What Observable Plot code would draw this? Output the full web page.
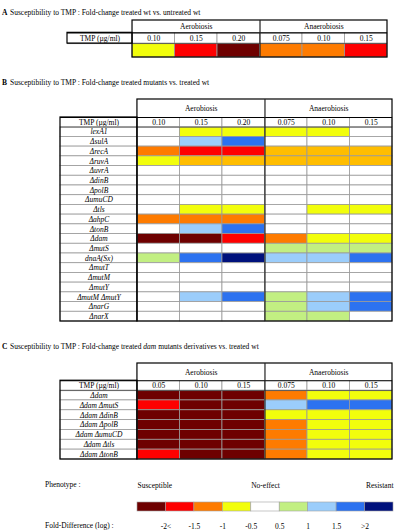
<!DOCTYPE html>
<html><head><meta charset="utf-8">
<script src="https://cdn.jsdelivr.net/npm/d3@7"></script>
<script src="https://cdn.jsdelivr.net/npm/@observablehq/plot@0.6"></script>
<style>
body{margin:0;background:#fff;}
#wrap{position:relative;width:401px;height:530px;overflow:hidden;font-family:"Liberation Serif","Times New Roman",serif;font-size:7.5px;color:#000;}
.t{position:absolute;white-space:nowrap;line-height:10px;}
.t b{display:inline-block;width:8px;}
.p{position:absolute;left:0;}
.p text{font-family:"Liberation Serif","Times New Roman",serif;}
</style></head><body><div id="wrap">
<div class="t" style="left:2px;top:8px"><b>A</b>Susceptibility to TMP : Fold-change treated wt vs. untreated wt</div>
<div class="t" style="left:2px;top:78px"><b>B</b>Susceptibility to TMP : Fold-change treated mutants vs. treated wt</div>
<div class="t" style="left:2px;top:342px"><b>C</b>Susceptibility to TMP : Fold-change treated <i>dam</i> mutants derivatives vs. treated wt</div>
<div class="t" style="left:45px;top:480px">Phenotype :</div>
<div class="t" style="left:45px;top:521px">Fold-Difference (log) :</div>
</div>
<script>
// ---- data ----
const classes = ["S4","S3","S2","S1","N","R1","R2","R3","R4","A"];
const classColors = ["#6e0000","#fe0000","#fe7b00","#f2fe0c","#ffffff","#c2ef82","#9bcdfb","#2c72f0","#00117c","#ffbd00"];
const legendClasses = ["S4","S3","S2","S1","N","R1","R2","R3","R4"];
const legendLabels = ["-2<","-1.5","-1","-0.5","0.5","1","1.5",">2"];
const phenotypes = ["Susceptible","No-effect","Resistant"];
const conditions = ["Aerobiosis","Anaerobiosis"];
const tmpLabel = "TMP (µg/ml)";

const concA = ["0.10","0.15","0.20","0.075","0.10","0.15"];
const valuesA = [["S1","S3","S4","S2","S2","S3"]];

const concB = ["0.10","0.15","0.20","0.075","0.10","0.15"];
const genotypesB = ["lexA1","ΔsulA","ΔrecA","ΔruvA","ΔuvrA","ΔdinB","ΔpolB","ΔumuCD","Δtls","ΔahpC","ΔtonB","Δdam","ΔmutS","dnaA(Sx)","ΔmutT","ΔmutM","ΔmutY","ΔmutM ΔmutY","ΔnarG","ΔnarX"];
const valuesB = [
  ["N","S1","S1","S1","S1","N"],
  ["N","R2","R3","N","N","N"],
  ["S2","S3","S3","A","A","A"],
  ["S1","A","A","A","A","A"],
  ["N","N","N","N","N","N"],
  ["N","N","N","N","N","N"],
  ["N","N","N","N","N","N"],
  ["N","N","N","N","N","N"],
  ["N","S1","S1","N","S1","S1"],
  ["S2","S2","S2","N","N","N"],
  ["N","R2","R3","N","N","N"],
  ["S4","S4","S3","S2","S1","S1"],
  ["N","N","N","R1","R1","R1"],
  ["R1","R3","R4","R2","R2","R3"],
  ["N","N","N","N","N","N"],
  ["N","N","N","N","N","N"],
  ["N","N","N","N","N","N"],
  ["N","R2","R3","R1","R2","R3"],
  ["N","N","N","R1","R2","R3"],
  ["N","N","N","R1","R1","N"]
];

const concC = ["0.05","0.10","0.15","0.075","0.10","0.15"];
const genotypesC = ["Δdam","Δdam ΔmutS","Δdam ΔdinB","Δdam ΔpolB","Δdam ΔumuCD","Δdam Δtls","Δdam ΔtonB"];
const valuesC = [
  ["S4","S4","S4","S2","S1","S1"],
  ["S3","S4","S4","R2","R3","R3"],
  ["S4","S4","S4","S1","S1","S1"],
  ["S4","S4","S4","S2","S1","S1"],
  ["S4","S4","S4","S2","S1","S1"],
  ["S4","S4","S4","S2","S1","S1"],
  ["S3","S4","S4","S2","S1","S1"]
];

// ---- drawing ----
const FF = "'Liberation Serif', 'Times New Roman', serif";
const FONT = {fontFamily: FF, fontSize: "7.5px", background: "transparent", overflow: "visible"};
const GRID = "#9a9a9a";
const colorScale = {type: "ordinal", domain: classes, range: classColors};
const wrap = document.getElementById("wrap");

function tablePlot({conc, genotypes, values, svgTop, svgHeight, xRange, labelUnits, yRange, hdr, rowH}) {
  const nCol = conc.length;
  const half = nCol / 2;
  const tmpTop = hdr, tmpBot = hdr + 1;
  const rowTop = i => tmpBot + i * rowH;
  const total = tmpBot + values.length * rowH;
  const labelBottom = genotypes ? total : tmpBot;
  const cells = values.flatMap((r, i) => r.map((c, j) => ({i, j, c})));
  const marks = [
    Plot.rect(cells, {x1: d => d.j, x2: d => d.j + 1, y1: d => rowTop(d.i), y2: d => rowTop(d.i) + rowH, fill: "c", stroke: GRID, strokeWidth: 0.8}),
    Plot.rect(conc, {x1: (d, j) => j, x2: (d, j) => j + 1, y1: () => tmpTop, y2: () => tmpBot, fill: "white", stroke: GRID, strokeWidth: 0.8}),
    Plot.text(conc, {x: (d, j) => j + 0.5, y: () => tmpTop + 0.5, text: d => d, fontFamily: FF}),
    Plot.rect(conditions, {x1: (d, k) => k * half, x2: (d, k) => (k + 1) * half, y1: () => 0, y2: () => hdr, fill: "white"}),
    Plot.text(conditions, {x: (d, k) => k * half + half / 2, y: () => hdr / 2, text: d => d, fontFamily: FF}),
    Plot.rect([tmpLabel], {x1: () => -labelUnits, x2: () => 0, y1: () => tmpTop, y2: () => tmpBot, fill: "white"}),
    Plot.text([tmpLabel], {x: () => -labelUnits / 2, y: () => tmpTop + 0.5, text: d => d, fontFamily: FF})
  ];
  if (genotypes) {
    marks.push(
      Plot.rect(genotypes, {x1: () => -labelUnits, x2: () => 0, y1: (d, i) => rowTop(i), y2: (d, i) => rowTop(i) + rowH, fill: "white", stroke: GRID, strokeWidth: 0.8}),
      Plot.text(genotypes, {x: () => -labelUnits / 2, y: (d, i) => rowTop(i) + rowH / 2, text: d => d, fontStyle: "italic", fontFamily: FF})
    );
  }
  marks.push(
    Plot.ruleY([tmpBot], {x1: () => -labelUnits, x2: () => nCol, stroke: "#555", strokeWidth: 0.9}),
    Plot.ruleY([hdr], {x1: () => -labelUnits, x2: () => nCol, stroke: "#000", strokeWidth: 1.1}),
    Plot.rect([0], {x1: () => 0, x2: () => nCol, y1: () => 0, y2: () => total, fill: "none", stroke: "#000", strokeWidth: 1.2}),
    Plot.rect([0], {x1: () => -labelUnits, x2: () => 0, y1: () => tmpTop, y2: () => labelBottom, fill: "none", stroke: "#000", strokeWidth: 1.2}),
    Plot.ruleX([half], {y1: () => 0, y2: () => total, stroke: "#222", strokeWidth: 1.2})
  );
  const svg = Plot.plot({
    width: 401, height: svgHeight, margin: 0,
    style: FONT,
    x: {type: "linear", domain: [-labelUnits, nCol], range: xRange, axis: null},
    y: {type: "linear", domain: [0, total], range: yRange, axis: null},
    color: colorScale,
    marks
  });
  svg.classList.add("p");
  svg.style.top = svgTop + "px";
  wrap.appendChild(svg);
}

tablePlot({conc: concA, genotypes: null, values: valuesA, svgTop: 0, svgHeight: 62,
  xRange: [67, 387], labelUnits: 1.53, yRange: [20, 57], hdr: 1.15, rowH: 1.3});
tablePlot({conc: concB, genotypes: genotypesB, values: valuesB, svgTop: 90, svgHeight: 236,
  xRange: [60, 392], labelUnits: 1.81, yRange: [9, 231], hdr: 1.85, rowH: 1});
tablePlot({conc: concC, genotypes: genotypesC, values: valuesC, svgTop: 355, svgHeight: 108,
  xRange: [60, 392], labelUnits: 1.81, yRange: [8, 104], hdr: 1.75, rowH: 1});

// legend
{
  const n = legendClasses.length;
  const svg = Plot.plot({
    width: 401, height: 60, margin: 0,
    style: FONT,
    x: {type: "linear", domain: [0, n], range: [137, 393], axis: null},
    y: {type: "linear", domain: [0, 1], range: [32, 41], axis: null},
    color: colorScale,
    marks: [
      Plot.rect(legendClasses, {x1: (d, i) => i, x2: (d, i) => i + 1, y1: () => 0, y2: () => 1, fill: d => d, stroke: "#a0a0a0", strokeWidth: 0.6}),
      Plot.text(legendLabels, {x: (d, i) => i + 1, y: () => 2.65, text: d => d, fontFamily: FF}),
      Plot.text([phenotypes[0]], {x: () => 0, y: () => -1.9, text: d => d, textAnchor: "start", fontFamily: FF}),
      Plot.text([phenotypes[1]], {x: () => n / 2, y: () => -1.9, text: d => d, textAnchor: "middle", fontFamily: FF}),
      Plot.text([phenotypes[2]], {x: () => n, y: () => -1.9, text: d => d, textAnchor: "end", fontFamily: FF})
    ]
  });
  svg.classList.add("p");
  svg.style.top = "470px";
  wrap.appendChild(svg);
}
</script></body></html>
